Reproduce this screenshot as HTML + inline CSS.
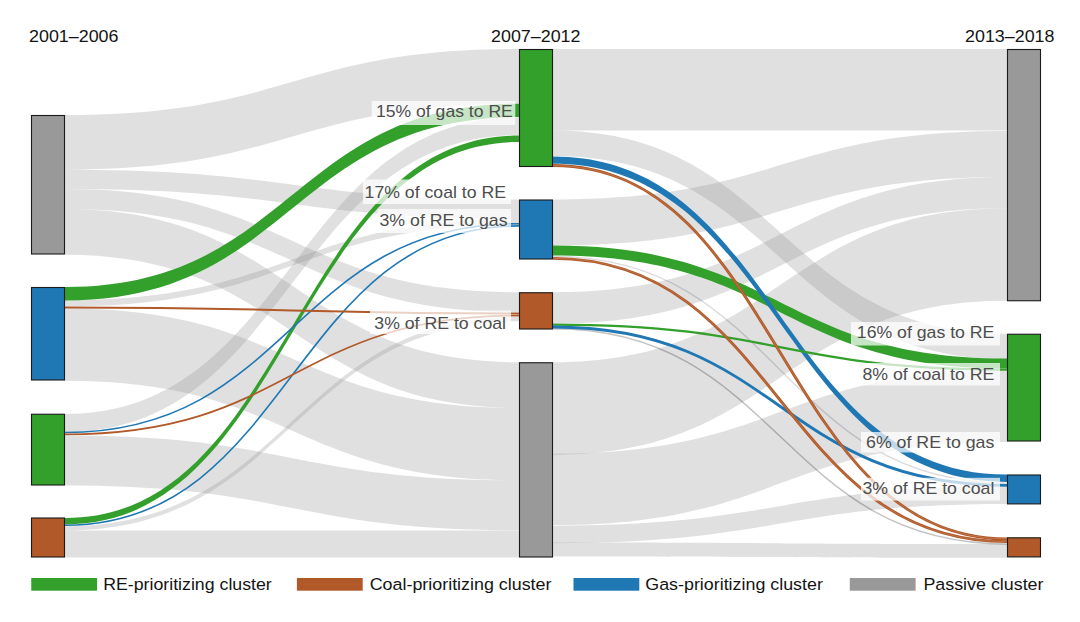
<!DOCTYPE html>
<html lang="en"><head><meta charset="utf-8"><title>Sankey: energy transition clusters</title>
<style>
html,body{margin:0;padding:0;background:#fff}
body{width:1080px;height:622px;overflow:hidden}
svg{display:block}
text{font-family:"Liberation Sans",Arial,Helvetica,sans-serif}
.lab text{font-size:16.6px;fill:#4d4d4d}
.ttl text{font-size:16.9px;fill:#141414}
</style></head><body>
<svg width="1080" height="622" viewBox="0 0 1080 622">
<rect width="1080" height="622" fill="#fff"/>
<g fill="#999" fill-opacity="0.3">
<path d="M65,115.00C292.0,115.00 292.0,49.00 519,49.00L519,103.65C292.0,103.65 292.0,169.65 65,169.65Z"/>
<path d="M65,169.65C292.0,169.65 292.0,199.50 519,199.50L519,218.85C292.0,218.85 292.0,189.00 65,189.00Z"/>
<path d="M65,189.00C292.0,189.00 292.0,292.25 519,292.25L519,312.25C292.0,312.25 292.0,209.00 65,209.00Z"/>
<path d="M65,209.00C292.0,209.00 292.0,362.25 519,362.25L519,408.05C292.0,408.05 292.0,254.80 65,254.80Z"/>
<path d="M65,300.30C292.0,300.30 292.0,218.85 519,218.85L519,224.95C292.0,224.95 292.0,306.40 65,306.40Z"/>
<path d="M65,308.60C292.0,308.60 292.0,408.05 519,408.05L519,480.25C292.0,480.25 292.0,380.80 65,380.80Z"/>
<path d="M65,414.00C292.0,414.00 292.0,117.20 519,117.20L519,135.10C292.0,135.10 292.0,431.90 65,431.90Z"/>
<path d="M65,435.50C292.0,435.50 292.0,480.30 519,480.30L519,530.30C292.0,530.30 292.0,485.50 65,485.50Z"/>
<path d="M65,526.20C292.0,526.20 292.0,317.00 519,317.00L519,321.30C292.0,321.30 292.0,530.50 65,530.50Z"/>
<path d="M65,530.50C292.0,530.50 292.0,530.40 519,530.40L519,557.40C292.0,557.40 292.0,557.50 65,557.50Z"/>
<path d="M553,49.00C780.0,49.00 780.0,49.00 1007,49.00L1007,130.60C780.0,130.60 780.0,130.60 553,130.60Z"/>
<path d="M553,130.60C780.0,130.60 780.0,333.75 1007,333.75L1007,359.15C780.0,359.15 780.0,156.00 553,156.00Z"/>
<path d="M553,199.50C780.0,199.50 780.0,131.00 1007,131.00L1007,177.00C780.0,177.00 780.0,245.50 553,245.50Z"/>
<path d="M553,292.25C780.0,292.25 780.0,177.00 1007,177.00L1007,208.20C780.0,208.20 780.0,323.45 553,323.45Z"/>
<path d="M553,362.25C780.0,362.25 780.0,208.20 1007,208.20L1007,300.70C780.0,300.70 780.0,454.75 553,454.75Z"/>
<path d="M553,453.60C780.0,453.60 780.0,370.60 1007,370.60L1007,442.10C780.0,442.10 780.0,525.10 553,525.10Z"/>
<path d="M553,525.70C780.0,525.70 780.0,486.50 1007,486.50L1007,504.00C780.0,504.00 780.0,543.20 553,543.20Z"/>
<path d="M553,542.60C780.0,542.60 780.0,544.00 1007,544.00L1007,557.80C780.0,557.80 780.0,556.40 553,556.40Z"/>
</g>
<g fill="none" stroke="#000">
<path d="M553,256.40C780.0,256.40 780.0,483.10 1007,483.10" stroke-width="1.44" stroke-opacity="0.14"/>
<path d="M553,328.75C780.0,328.75 780.0,543.95 1007,543.95" stroke-width="1.40" stroke-opacity="0.24"/>
</g>
<g>
<path d="M65,287.00C292.0,287.00 292.0,103.70 519,103.70L519,117.10C292.0,117.10 292.0,300.40 65,300.40Z" fill="#33a02c"/>
<path d="M65,518.00C292.0,518.00 292.0,135.60 519,135.60L519,142.00C292.0,142.00 292.0,524.40 65,524.40Z" fill="#33a02c"/>
<path d="M553,245.60C780.0,245.60 780.0,358.60 1007,358.60L1007,368.60C780.0,368.60 780.0,255.60 553,255.60Z" fill="#33a02c"/>
<path d="M553,156.40C780.0,156.40 780.0,474.60 1007,474.60L1007,481.90C780.0,481.90 780.0,163.70 553,163.70Z" fill="#1f78b4"/>
</g>
<g fill="none">
<path d="M553,324.60C780.0,324.60 780.0,369.60 1007,369.60" stroke="#33a02c" stroke-width="2.4"/>
<path d="M65,432.50C292.0,432.50 292.0,223.70 519,223.70" stroke="#1f78b4" stroke-width="1.6"/>
<path d="M65,525.30C292.0,525.30 292.0,225.90 519,225.90" stroke="#1f78b4" stroke-width="1.6"/>
<path d="M553,327.05C780.0,327.05 780.0,485.35 1007,485.35" stroke="#1f78b4" stroke-width="2.9"/>
<path d="M65,307.50C292.0,307.50 292.0,313.50 519,313.50" stroke="#b15928" stroke-width="2.0"/>
<path d="M65,434.45C292.0,434.45 292.0,315.65 519,315.65" stroke="#b15928" stroke-width="1.7"/>
<path d="M553,165.45C780.0,165.45 780.0,538.95 1007,538.95" stroke="#b15928" stroke-width="2.9"/>
<path d="M553,165.45C780.0,165.45 780.0,538.95 1007,538.95" stroke="#fff" stroke-opacity="0.18" stroke-width="0.87"/>
<path d="M553,258.30C780.0,258.30 780.0,541.70 1007,541.70" stroke="#b15928" stroke-width="2.8"/>
<path d="M553,258.30C780.0,258.30 780.0,541.70 1007,541.70" stroke="#fff" stroke-opacity="0.18" stroke-width="0.84"/>
</g>
<g stroke="#1a1a1a" stroke-width="1.1">
<rect x="31.5" y="115.50" width="33" height="138.50" fill="#999999"/>
<rect x="31.5" y="287.50" width="33" height="92.50" fill="#1f78b4"/>
<rect x="31.5" y="414.25" width="33" height="70.75" fill="#33a02c"/>
<rect x="31.5" y="518.00" width="33" height="39.00" fill="#b15928"/>
<rect x="519.5" y="49.50" width="33" height="117.00" fill="#33a02c"/>
<rect x="519.5" y="200.00" width="33" height="59.00" fill="#1f78b4"/>
<rect x="519.5" y="292.75" width="33" height="36.25" fill="#b15928"/>
<rect x="519.5" y="362.75" width="33" height="194.25" fill="#999999"/>
<rect x="1007.5" y="49.50" width="33" height="251.25" fill="#999999"/>
<rect x="1007.5" y="334.25" width="33" height="106.75" fill="#33a02c"/>
<rect x="1007.5" y="475.00" width="33" height="28.90" fill="#1f78b4"/>
<rect x="1007.5" y="537.80" width="33" height="19.10" fill="#b15928"/>
</g>
<g fill="#fff" fill-opacity="0.72">
<rect x="371.7" y="101" width="143.6" height="24.0"/>
<rect x="363" y="179.5" width="148.0" height="24.5"/>
<rect x="377.5" y="209" width="133.5" height="24.0"/>
<rect x="370" y="310.5" width="141.0" height="23.5"/>
<rect x="851" y="322" width="149.0" height="23.5"/>
<rect x="851" y="363" width="149.0" height="22.5"/>
<rect x="861" y="432" width="139.0" height="20.5"/>
<rect x="861" y="477.8" width="139.0" height="22.8"/>
</g>
<g class="lab">
<text x="512.8" y="117.0" text-anchor="end" textLength="136.8" lengthAdjust="spacingAndGlyphs">15% of gas to RE</text>
<text x="506.0" y="198.2" text-anchor="end" textLength="141.4" lengthAdjust="spacingAndGlyphs">17% of coal to RE</text>
<text x="507.6" y="226.0" text-anchor="end" textLength="128.1" lengthAdjust="spacingAndGlyphs">3% of RE to gas</text>
<text x="506.0" y="329.2" text-anchor="end" textLength="131.7" lengthAdjust="spacingAndGlyphs">3% of RE to coal</text>
<text x="994.4" y="338.0" text-anchor="end" textLength="137.6" lengthAdjust="spacingAndGlyphs">16% of gas to RE</text>
<text x="994.4" y="379.6" text-anchor="end" textLength="132.0" lengthAdjust="spacingAndGlyphs">8% of coal to RE</text>
<text x="994.4" y="447.5" text-anchor="end" textLength="128.4" lengthAdjust="spacingAndGlyphs">6% of RE to gas</text>
<text x="994.4" y="493.5" text-anchor="end" textLength="132.0" lengthAdjust="spacingAndGlyphs">3% of RE to coal</text>
</g>
<g class="ttl">
<text x="29" y="42.3" textLength="89.5" lengthAdjust="spacingAndGlyphs">2001–2006</text>
<text x="491" y="42.3" textLength="89.5" lengthAdjust="spacingAndGlyphs">2007–2012</text>
<text x="965" y="42.3" textLength="89.5" lengthAdjust="spacingAndGlyphs">2013–2018</text>
</g>
<g class="ttl">
<rect x="31.25" y="578" width="65.8" height="12.7" fill="#33a02c"/>
<text x="103.2" y="589.5" textLength="168.6" lengthAdjust="spacingAndGlyphs">RE-prioritizing cluster</text>
<rect x="296.9" y="578" width="65.8" height="12.7" fill="#b15928"/>
<text x="369.7" y="589.5" textLength="181.8" lengthAdjust="spacingAndGlyphs">Coal-prioritizing cluster</text>
<rect x="573.5" y="578" width="65.8" height="12.7" fill="#1f78b4"/>
<text x="645.3" y="589.5" textLength="177.6" lengthAdjust="spacingAndGlyphs">Gas-prioritizing cluster</text>
<rect x="849.8" y="578" width="65.8" height="12.7" fill="#999999"/>
<text x="923.4" y="589.5" textLength="120.1" lengthAdjust="spacingAndGlyphs">Passive cluster</text>
</g>
</svg>
</body></html>
